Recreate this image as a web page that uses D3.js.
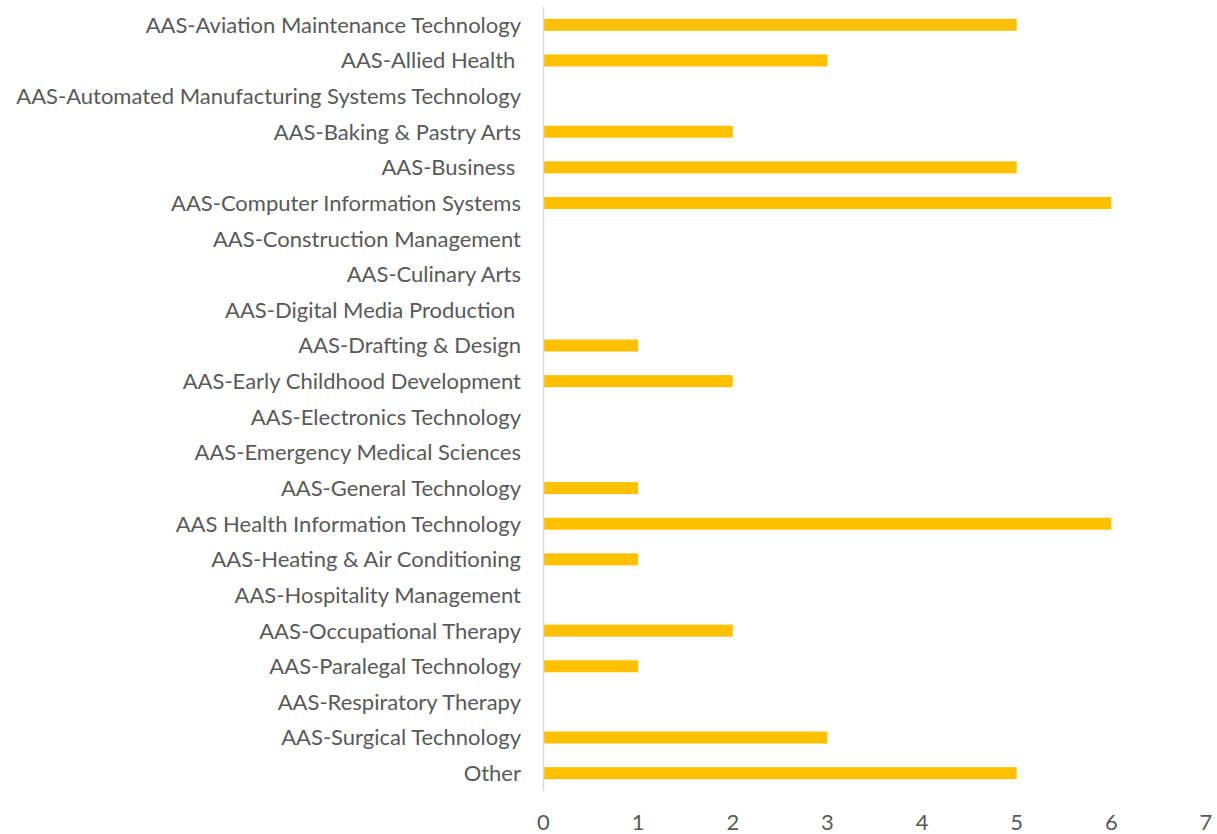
<!DOCTYPE html>
<html lang="en">
<head>
    <meta charset="UTF-8"/>
    <title>Bar chart</title>
    <script src="https://d3js.org/d3.v7.min.js" charset="utf-8"></script>
    <style type="text/css">
        body { margin: 0; background: #fff; }
        text { font-family: Lato, "Open Sans", sans-serif; fill: #595959; }
    </style>
</head>
<body>
<svg width="1217" height="834"></svg>
<script type="text/javascript">
    var programs = [
        "AAS-Aviation Maintenance Technology",
        "AAS-Allied Health ",
        "AAS-Automated Manufacturing Systems Technology",
        "AAS-Baking & Pastry Arts",
        "AAS-Business ",
        "AAS-Computer Information Systems",
        "AAS-Construction Management",
        "AAS-Culinary Arts",
        "AAS-Digital Media Production ",
        "AAS-Drafting & Design",
        "AAS-Early Childhood Development",
        "AAS-Electronics Technology",
        "AAS-Emergency Medical Sciences",
        "AAS-General Technology",
        "AAS Health Information Technology",
        "AAS-Heating & Air Conditioning",
        "AAS-Hospitality Management",
        "AAS-Occupational Therapy",
        "AAS-Paralegal Technology",
        "AAS-Respiratory Therapy",
        "AAS-Surgical Technology",
        "Other"
    ];
    var counts = [5, 3, 0, 2, 5, 6, 0, 0, 0, 1, 2, 0, 0, 1, 6, 1, 0, 2, 1, 0, 3, 5];
    var xTicks = [0, 1, 2, 3, 4, 5, 6, 7];

    var svg = d3.select("svg");

    var x = d3.scaleLinear().domain([0, 7]).range([543.5, 1206]);
    var y = d3.scaleBand().domain(programs).range([7, 791])
        .paddingInner(0.663).paddingOuter(0.3315);

    // bars
    svg.selectAll(".bar")
        .data(programs)
        .enter().append("rect")
        .attr("class", "bar")
        .attr("x", x(0) + 0.5)
        .attr("y", function(d) { return y(d); })
        .attr("width", function(d, i) { return Math.max(0, x(counts[i]) - x(0) - 0.5); })
        .attr("height", y.bandwidth())
        .attr("fill", "#ffc000");

    // vertical axis line
    svg.append("line")
        .attr("x1", x(0)).attr("x2", x(0))
        .attr("y1", 7).attr("y2", 791)
        .attr("stroke", "#d9d9d9")
        .attr("stroke-width", 1.5);

    // category labels
    svg.selectAll(".cat")
        .data(programs)
        .enter().append("text")
        .attr("class", "cat")
        .attr("x", 521)
        .attr("y", function(d) { return y(d) + y.bandwidth() / 2; })
        .attr("dy", "0.36em")
        .attr("text-anchor", "end")
        .style("font-size", "22px")
        .style("white-space", "pre")
        .text(function(d) { return d; });

    // x tick labels
    svg.selectAll(".tick")
        .data(xTicks)
        .enter().append("text")
        .attr("class", "tick")
        .attr("x", function(d) { return x(d); })
        .attr("y", 830)
        .attr("text-anchor", "middle")
        .style("font-size", "22px")
        .text(function(d) { return d; });
</script>
</body>
</html>
